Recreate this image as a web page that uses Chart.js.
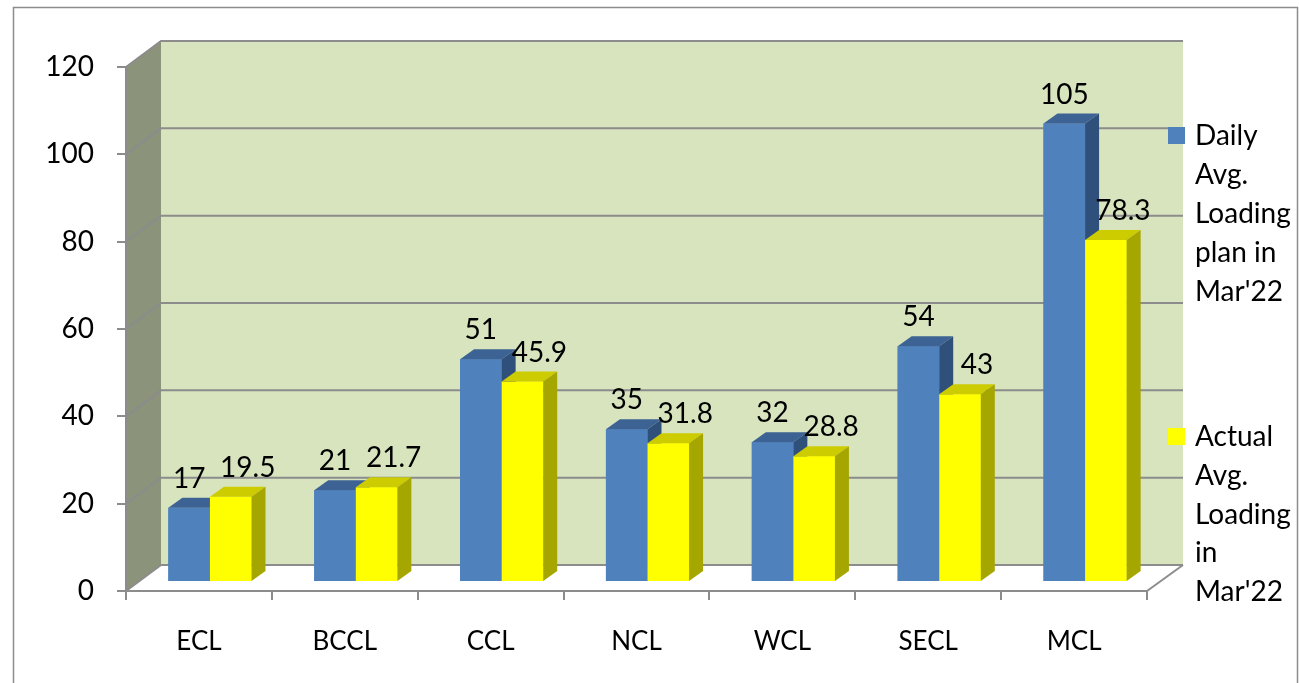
<!DOCTYPE html>
<html>
<head>
<meta charset="utf-8">
<script src="https://cdn.jsdelivr.net/npm/chart.js@4.4.1/dist/chart.umd.min.js"></script>
<style>
  html, body { margin: 0; padding: 0; background: #ffffff; }
  #wrap { width: 1299px; height: 683px; position: relative; }
</style>
</head>
<body>
<div id="wrap"><canvas id="c" width="1299" height="683"></canvas></div>
<script>
// ---- data ----
const categories = ['ECL', 'BCCL', 'CCL', 'NCL', 'WCL', 'SECL', 'MCL'];
const planValues = [17, 21, 51, 35, 32, 54, 105];
const actualValues = [19.5, 21.7, 45.9, 31.8, 28.8, 43, 78.3];
const seriesNames = ["Daily Avg. Loading plan in Mar'22", "Actual Avg. Loading in Mar'22"];
const yTickMin = 0, yTickMax = 120, yTickStep = 20;

// ---- styles ----
const FONT = 'Lato, "Open Sans", sans-serif';
const faceColors = [
  { front: '#4F81BD', top: '#3C6393', side: '#30507C' },
  { front: '#FFFF00', top: '#CCCC00', side: '#A6A600' }
];
const labelShift = [0, 17];
const WALL_DX = 35, WALL_DY = -26;   // depth of the 3D box
const BAR_DX = 11, BAR_DY = -9;      // bar plane offset
const BAR_DEPTH_X = 14, BAR_DEPTH_Y = -10;
const legendTops = [135, 436];
const legendLineH = [39, 38.75];

const threeD = {
  id: 'threeD',
  beforeDraw(chart) {
    const ctx = chart.ctx, a = chart.chartArea, ys = chart.scales.y;
    ctx.save();
    // outer frame
    ctx.strokeStyle = '#8c8c8c'; ctx.lineWidth = 1.5;
    ctx.beginPath();
    ctx.moveTo(13.5, 700); ctx.lineTo(13.5, 7.5); ctx.lineTo(1297.5, 7.5); ctx.lineTo(1297.5, 700);
    ctx.stroke();
    const yTop = ys.getPixelForValue(yTickMax), yBot = ys.getPixelForValue(yTickMin);
    const L = a.left, R = a.right, bL = L + WALL_DX, bR = R + WALL_DX + 1;
    // back wall
    ctx.fillStyle = '#D7E4BD';
    ctx.fillRect(bL, yTop + WALL_DY, bR - bL, yBot - yTop);
    // side wall
    ctx.fillStyle = '#8B937A';
    ctx.beginPath();
    ctx.moveTo(L, yTop); ctx.lineTo(bL, yTop + WALL_DY); ctx.lineTo(bL, yBot + WALL_DY); ctx.lineTo(L, yBot);
    ctx.closePath(); ctx.fill();
    // floor
    ctx.fillStyle = '#ffffff';
    ctx.beginPath();
    ctx.moveTo(L, yBot); ctx.lineTo(bL, yBot + WALL_DY); ctx.lineTo(bR, yBot + WALL_DY); ctx.lineTo(R, yBot);
    ctx.closePath(); ctx.fill();
    // grid lines on walls
    ctx.strokeStyle = '#8c8c8c'; ctx.lineWidth = 2;
    for (let v = yTickMin; v <= yTickMax; v += yTickStep) {
      const yf = ys.getPixelForValue(v);
      ctx.beginPath();
      ctx.moveTo(L, yf); ctx.lineTo(bL, yf + WALL_DY); ctx.lineTo(bR, yf + WALL_DY);
      ctx.stroke();
    }
    // floor right edge
    ctx.beginPath();
    ctx.moveTo(bR, yBot + WALL_DY); ctx.lineTo(R, yBot);
    ctx.stroke();
    ctx.restore();
  },
  beforeDatasetsDraw(chart) {
    chart.ctx.save();
    chart.ctx.translate(BAR_DX, BAR_DY);
  },
  afterDatasetsDraw(chart) {
    const ctx = chart.ctx;
    // redraw series in order (first series behind), with 3D faces
    chart.data.datasets.forEach((ds, i) => {
      const c = faceColors[i];
      chart.getDatasetMeta(i).data.forEach(el => {
        el.draw(ctx);
        const l = el.x - el.width / 2, r = el.x + el.width / 2, t = el.y, b = el.base;
        ctx.fillStyle = c.top;
        ctx.beginPath();
        ctx.moveTo(l, t); ctx.lineTo(r, t); ctx.lineTo(r + BAR_DEPTH_X, t + BAR_DEPTH_Y); ctx.lineTo(l + BAR_DEPTH_X, t + BAR_DEPTH_Y);
        ctx.closePath(); ctx.fill();
        ctx.fillStyle = c.side;
        ctx.beginPath();
        ctx.moveTo(r, t); ctx.lineTo(r + BAR_DEPTH_X, t + BAR_DEPTH_Y); ctx.lineTo(r + BAR_DEPTH_X, b + BAR_DEPTH_Y); ctx.lineTo(r, b);
        ctx.closePath(); ctx.fill();
      });
    });
    ctx.restore();
    ctx.save();
    ctx.font = '28px ' + FONT; ctx.fillStyle = '#000'; ctx.textAlign = 'center'; ctx.textBaseline = 'alphabetic';
    chart.data.datasets.forEach((ds, i) => {
      chart.getDatasetMeta(i).data.forEach((el, j) => {
        ctx.fillText(String(ds.data[j]), el.x + BAR_DX + labelShift[i], el.y + BAR_DY - 20);
      });
    });
    ctx.restore();
  },
  afterDraw(chart) {
    const ctx = chart.ctx;
    ctx.save();
    ctx.font = '28px ' + FONT; ctx.fillStyle = '#000'; ctx.textAlign = 'left'; ctx.textBaseline = 'alphabetic';
    chart.data.datasets.forEach((ds, i) => {
      const words = ds.label.split(' ');
      const lines = []; let cur = '';
      words.forEach(w => {
        const t = cur ? cur + ' ' + w : w;
        if (cur && ctx.measureText(t).width > 104) { lines.push(cur); cur = w; } else cur = t;
      });
      if (cur) lines.push(cur);
      const y0 = legendTops[i];
      ctx.fillStyle = faceColors[i].front;
      ctx.fillRect(1168, y0 - 8, 17, 17);
      ctx.fillStyle = '#000';
      lines.forEach((ln, k) => ctx.fillText(ln, 1195, y0 + 10 + k * legendLineH[i]));
    });
    ctx.restore();
  }
};

new Chart(document.getElementById('c'), {
  type: 'bar',
  data: {
    labels: categories,
    datasets: [
      { label: seriesNames[0], data: planValues, backgroundColor: faceColors[0].front, clip: false },
      { label: seriesNames[1], data: actualValues, backgroundColor: faceColors[1].front, clip: false }
    ]
  },
  options: {
    responsive: false,
    animation: false,
    devicePixelRatio: 1,
    layout: { padding: { left: 0, right: 152, top: 67, bottom: 0 } },
    datasets: { bar: { categoryPercentage: 0.57, barPercentage: 1.0 } },
    plugins: { legend: { display: false }, tooltip: { enabled: false } },
    scales: {
      x: {
        grid: { display: true, drawOnChartArea: false, drawTicks: true, tickLength: 9, color: '#8c8c8c', lineWidth: 2, offset: true },
        border: { display: true, color: '#8c8c8c', width: 2 },
        ticks: { font: { family: FONT, size: 26 }, color: '#000', padding: 26, maxRotation: 0 },
        afterFit(s) { s.height = 92; }
      },
      y: {
        min: yTickMin, max: yTickMax,
        grid: { display: true, drawOnChartArea: false, drawTicks: true, tickLength: 9, color: '#8c8c8c', lineWidth: 2 },
        border: { display: true, color: '#8c8c8c', width: 2 },
        ticks: { stepSize: yTickStep, font: { family: FONT, size: 28 }, color: '#000', padding: 23 },
        afterFit(s) { s.width = 126; }
      }
    }
  },
  plugins: [threeD]
});
</script>
</body>
</html>
